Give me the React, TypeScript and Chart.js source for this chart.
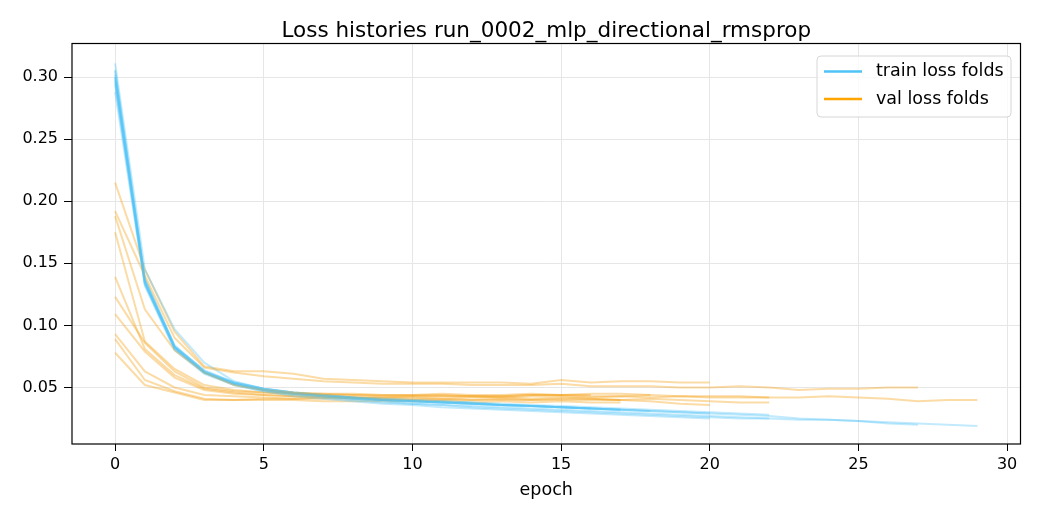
import { useEffect, useRef } from "react";
import { Chart, registerables } from "chart.js";

Chart.register(...registerables);

const TITLE = "Loss histories run_0002_mlp_directional_rmsprop";
const X_LABEL = "epoch";
const X_TICKS = [0, 5, 10, 15, 20, 25, 30];
const Y_TICKS = [0.05, 0.1, 0.15, 0.2, 0.25, 0.3];
const LEGEND_LABELS = ["train loss folds", "val loss folds"];

// one array per fold, index = epoch
const trainFolds: number[][] = [
  [0.300, 0.134, 0.081, 0.062, 0.053, 0.048, 0.045, 0.043, 0.041, 0.039, 0.037, 0.036, 0.035, 0.034, 0.033, 0.032, 0.031, 0.030, 0.029, 0.028, 0.027, 0.026, 0.025, 0.024, 0.024, 0.023, 0.022, 0.021, 0.020, 0.019],
  [0.305, 0.136, 0.083, 0.063, 0.054, 0.049, 0.046, 0.044, 0.042, 0.040, 0.039, 0.038, 0.037, 0.036, 0.035, 0.034, 0.033, 0.032, 0.031, 0.030, 0.029, 0.028, 0.027, 0.025, 0.024, 0.023, 0.021, 0.020],
  [0.296, 0.133, 0.082, 0.062, 0.052, 0.047, 0.044, 0.042, 0.040, 0.038, 0.037, 0.036, 0.034, 0.033, 0.032, 0.031, 0.030, 0.029, 0.028, 0.027, 0.026, 0.025, 0.025],
  [0.311, 0.145, 0.097, 0.070, 0.055, 0.049, 0.046, 0.044, 0.042, 0.041, 0.040, 0.039, 0.038, 0.037, 0.036, 0.035, 0.034, 0.033, 0.032, 0.031, 0.030, 0.029, 0.028],
  [0.298, 0.135, 0.083, 0.064, 0.054, 0.049, 0.046, 0.044, 0.042, 0.040, 0.039, 0.038, 0.037, 0.036, 0.035, 0.034, 0.033, 0.032, 0.031, 0.030, 0.029],
  [0.288, 0.132, 0.080, 0.061, 0.052, 0.047, 0.043, 0.041, 0.039, 0.037, 0.036, 0.034, 0.033, 0.032, 0.031, 0.030, 0.029, 0.028, 0.027, 0.026, 0.025],
  [0.302, 0.137, 0.084, 0.063, 0.053, 0.048, 0.045, 0.043, 0.041, 0.040, 0.039, 0.038, 0.037, 0.036, 0.035, 0.034, 0.033, 0.032, 0.031],
  [0.294, 0.134, 0.082, 0.062, 0.053, 0.048, 0.045, 0.043, 0.041, 0.040, 0.039, 0.038, 0.037, 0.036, 0.035, 0.034, 0.033, 0.032],
  [0.306, 0.138, 0.083, 0.063, 0.054, 0.049, 0.046, 0.044, 0.042, 0.041, 0.040, 0.039, 0.038, 0.036, 0.035, 0.034, 0.033, 0.032],
  [0.300, 0.135, 0.082, 0.062, 0.053, 0.048, 0.045, 0.043, 0.042, 0.040, 0.039, 0.038, 0.037, 0.036, 0.035, 0.034, 0.033],
];

const valFolds: number[][] = [
  [0.188, 0.113, 0.080, 0.062, 0.052, 0.048, 0.046, 0.045, 0.045, 0.044, 0.044, 0.044, 0.043, 0.043, 0.044, 0.044, 0.043, 0.043, 0.044, 0.043, 0.043, 0.043, 0.042, 0.042, 0.043, 0.042, 0.041, 0.039, 0.040, 0.040],
  [0.192, 0.140, 0.090, 0.066, 0.062, 0.059, 0.057, 0.055, 0.054, 0.053, 0.053, 0.053, 0.052, 0.052, 0.052, 0.053, 0.051, 0.051, 0.051, 0.050, 0.050, 0.051, 0.050, 0.048, 0.049, 0.049, 0.050, 0.050],
  [0.175, 0.087, 0.065, 0.052, 0.048, 0.046, 0.045, 0.044, 0.044, 0.043, 0.043, 0.043, 0.043, 0.042, 0.043, 0.043, 0.042, 0.043, 0.042, 0.043, 0.042, 0.042, 0.042],
  [0.139, 0.081, 0.060, 0.049, 0.046, 0.044, 0.043, 0.042, 0.042, 0.041, 0.041, 0.041, 0.040, 0.041, 0.040, 0.041, 0.041, 0.040, 0.041, 0.040, 0.039, 0.038, 0.038],
  [0.215, 0.145, 0.095, 0.067, 0.063, 0.063, 0.061, 0.057, 0.056, 0.055, 0.054, 0.054, 0.054, 0.054, 0.053, 0.056, 0.054, 0.055, 0.055, 0.054, 0.054],
  [0.109, 0.079, 0.058, 0.048, 0.045, 0.044, 0.043, 0.043, 0.042, 0.042, 0.042, 0.041, 0.042, 0.042, 0.041, 0.042, 0.041, 0.040, 0.039, 0.037, 0.036],
  [0.123, 0.086, 0.063, 0.050, 0.047, 0.046, 0.045, 0.045, 0.044, 0.044, 0.044, 0.045, 0.044, 0.044, 0.045, 0.044, 0.045, 0.045, 0.044],
  [0.093, 0.063, 0.050, 0.044, 0.043, 0.042, 0.041, 0.041, 0.041, 0.040, 0.040, 0.040, 0.040, 0.040, 0.040, 0.040, 0.040, 0.040],
  [0.089, 0.056, 0.047, 0.041, 0.040, 0.040, 0.040, 0.039, 0.039, 0.039, 0.039, 0.039, 0.038, 0.039, 0.038, 0.039, 0.038, 0.038],
  [0.078, 0.052, 0.046, 0.040, 0.040, 0.041, 0.041, 0.042, 0.042, 0.042, 0.043, 0.043, 0.043, 0.043, 0.044, 0.044, 0.044],
];

const TRAIN_COLOR = "#4fc3f7";
const VAL_COLOR = "#ffa500";
const TRAIN_FOLD = "rgba(79,195,247,0.35)";
const VAL_FOLD = "rgba(245,160,20,0.38)";
const FONT = "'DejaVu Sans', sans-serif";

const overlay = {
  id: "overlay",
  afterDatasetsDraw(chart: Chart) {
    const { ctx, chartArea: a } = chart;
    ctx.save();
    // axes frame
    ctx.strokeStyle = "#000";
    ctx.lineWidth = 1.2;
    ctx.strokeRect(a.left, a.top, a.right - a.left, a.bottom - a.top);

    ctx.fillStyle = "#000";
    ctx.textAlign = "center";
    ctx.textBaseline = "alphabetic";
    ctx.font = `21.5px ${FONT}`;
    ctx.fillText(TITLE, (a.left + a.right) / 2, 37);
    ctx.font = `17.5px ${FONT}`;
    ctx.fillText(X_LABEL, (a.left + a.right) / 2, 495);

    // legend
    const bx = 817, by = 56, bw = 194, bh = 61, r = 4;
    ctx.beginPath();
    ctx.moveTo(bx + r, by);
    ctx.arcTo(bx + bw, by, bx + bw, by + bh, r);
    ctx.arcTo(bx + bw, by + bh, bx, by + bh, r);
    ctx.arcTo(bx, by + bh, bx, by, r);
    ctx.arcTo(bx, by, bx + bw, by, r);
    ctx.closePath();
    ctx.fillStyle = "rgba(255,255,255,0.8)";
    ctx.fill();
    ctx.strokeStyle = "#d6d6d6";
    ctx.lineWidth = 1;
    ctx.stroke();

    const colors = [TRAIN_COLOR, VAL_COLOR];
    LEGEND_LABELS.forEach((label, i) => {
      const y = 71.5 + i * 27.5;
      ctx.strokeStyle = colors[i];
      ctx.lineWidth = 2.5;
      ctx.beginPath();
      ctx.moveTo(824, y);
      ctx.lineTo(862, y);
      ctx.stroke();
      ctx.fillStyle = "#000";
      ctx.textAlign = "left";
      ctx.textBaseline = "middle";
      ctx.font = `17.5px ${FONT}`;
      ctx.fillText(label, 876, y);
    });
    ctx.restore();
  },
};

export default function App() {
  const canvasRef = useRef<HTMLCanvasElement>(null);
  const chartRef = useRef<Chart | null>(null);

  useEffect(() => {
    if (!canvasRef.current) return;
    if (chartRef.current) chartRef.current.destroy();

    const datasets: any[] = [];
    trainFolds.forEach((fold, i) => {
      datasets.push({
        label: `train fold ${i}`,
        data: fold.map((y, x) => ({ x, y })),
        borderColor: TRAIN_FOLD,
        borderWidth: 2,
        pointRadius: 0,
        fill: false,
      });
      datasets.push({
        label: `val fold ${i}`,
        data: valFolds[i].map((y, x) => ({ x, y })),
        borderColor: VAL_FOLD,
        borderWidth: 2,
        pointRadius: 0,
        fill: false,
      });
    });

    const tickFont = { family: FONT, size: 16 };

    chartRef.current = new Chart(canvasRef.current, {
      type: "line",
      data: { datasets },
      options: {
        animation: false,
        responsive: true,
        maintainAspectRatio: false,
        layout: { padding: { top: 43.5, right: 19.5, left: 0, bottom: 0 } },
        plugins: {
          legend: { display: false },
          title: { display: false },
          tooltip: { enabled: false },
        },
        scales: {
          x: {
            type: "linear",
            min: -1.45,
            max: 30.45,
            afterBuildTicks: (s: any) => {
              s.ticks = X_TICKS.map((value) => ({ value }));
            },
            afterFit: (s: any) => {
              s.height = 76;
            },
            ticks: {
              color: "#000",
              font: tickFont,
              padding: 4,
              autoSkip: false,
              maxRotation: 0,
              callback: (v: any) => String(v),
            },
            grid: { color: "#e6e6e6", tickColor: "#000", tickLength: 7, lineWidth: 1 },
            border: { display: false },
          },
          y: {
            type: "linear",
            min: 0.0045,
            max: 0.327,
            afterBuildTicks: (s: any) => {
              s.ticks = Y_TICKS.map((value) => ({ value }));
            },
            afterFit: (s: any) => {
              s.width = 72;
            },
            ticks: {
              color: "#000",
              font: tickFont,
              padding: 6,
              autoSkip: false,
              callback: (v: any) => Number(v).toFixed(2),
            },
            grid: { color: "#e6e6e6", tickColor: "#000", tickLength: 8, lineWidth: 1 },
            border: { display: false },
          },
        },
      },
      plugins: [overlay],
    });

    return () => {
      if (chartRef.current) {
        chartRef.current.destroy();
        chartRef.current = null;
      }
    };
  }, []);

  return (
    <div style={{ position: "fixed", left: 0, top: 0, width: 1040, height: 520, background: "#fff" }}>
      <canvas ref={canvasRef} />
    </div>
  );
}
